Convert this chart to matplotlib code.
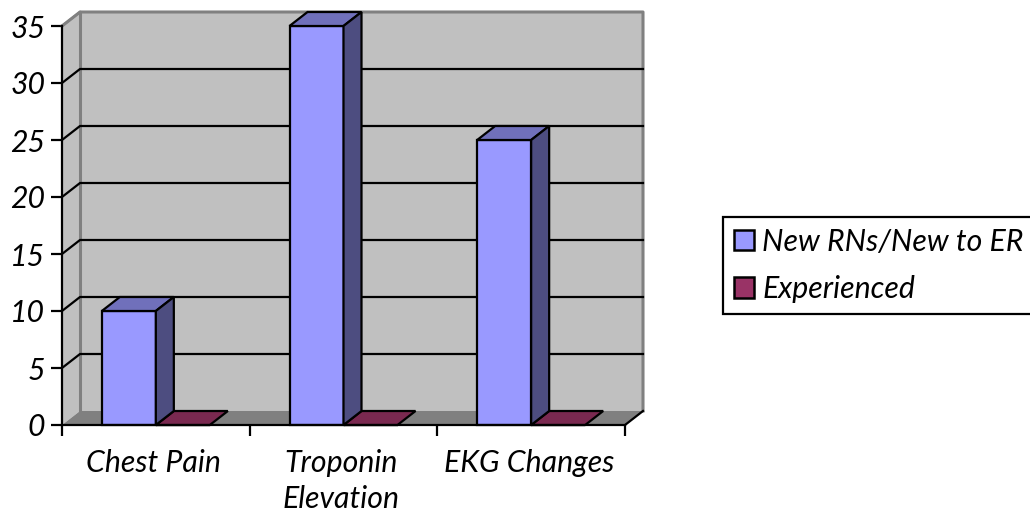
import matplotlib
matplotlib.use("Agg")
import matplotlib.pyplot as plt
from matplotlib.patches import Patch

categories = ["Chest Pain", "Troponin\nElevation", "EKG Changes"]
new_rns = [10, 35, 25]
experienced = [0, 0, 0]
series_names = ["New RNs/New to ER", "Experienced"]
y_ticks = [0, 5, 10, 15, 20, 25, 30, 35]

FONT = "Lato"
FS = 21.8
W, H = 1030, 514
L, R, B, T = 62, 625, 425, 26
fig = plt.figure(figsize=(W / 100, H / 100), dpi=100, facecolor="white")
ax = fig.add_axes([L / W, 1 - B / H, (R - L) / W, (B - T) / H])
ax.set_xlim(0, 3)
ax.set_ylim(0, 35)
ax.patch.set_visible(False)
for s in ("top", "right"):
    ax.spines[s].set_visible(False)
for s in ("left", "bottom"):
    ax.spines[s].set_linewidth(1.6)
    ax.spines[s].set_zorder(6)

dx = 18 / ((R - L) / 3)
dy = 14 / ((B - T) / 35)
bw = 54 / ((R - L) / 3)
lw = 1.6
wall = "#c0c0c0"
edge = "#808080"

# walls and floor
ax.fill([0, dx, dx, 0], [0, dy, 35 + dy, 35], fc=wall, ec="none", clip_on=False, zorder=1)
ax.fill([dx, 3 + dx, 3 + dx, dx], [dy, dy, 35 + dy, 35 + dy], fc=wall, ec="none", clip_on=False, zorder=1)
ax.plot([0, dx, 3 + dx, 3 + dx], [35, 35 + dy, 35 + dy, dy], color=edge, lw=2.2, clip_on=False, zorder=1.5)
ax.plot([dx, dx], [dy, 35 + dy], color=edge, lw=2.2, clip_on=False, zorder=1.5)
ax.fill([0, 3, 3 + dx, dx], [0, 0, dy, dy], fc=edge, ec="none", clip_on=False, zorder=2)
ax.plot([3, 3 + dx], [0, dy], color="black", lw=lw, clip_on=False, zorder=2.5)

# grid lines
for v in y_ticks[1:-1]:
    ax.plot([0, dx, 3 + dx], [v, v + dy, v + dy], color="black", lw=lw, clip_on=False, zorder=2.5)
ax.plot([0, dx], [35, 35 + dy], color=edge, lw=lw, clip_on=False, zorder=2.5)

# bars
def bar3d(x0, v, front, top, side):
    ax.bar(x0, v, width=bw, align="edge", fc=front, ec="black", lw=lw, clip_on=False, zorder=4)
    ax.fill([x0, x0 + bw, x0 + bw + dx, x0 + dx], [v, v, v + dy, v + dy],
            fc=top, ec="black", lw=lw, clip_on=False, zorder=4)
    if v > 0:
        ax.fill([x0 + bw, x0 + bw + dx, x0 + bw + dx, x0 + bw], [0, dy, v + dy, v],
                fc=side, ec="black", lw=lw, clip_on=False, zorder=4)

gap = (1 - 2 * bw) / 2
for i, (a, b) in enumerate(zip(new_rns, experienced)):
    bar3d(i + gap + bw, b, "#993366", "#7a2950", "#4d1a33")
    bar3d(i + gap, a, "#9999ff", "#7070bb", "#4d4d80")

# axes text
ax.set_xticks([0, 1, 2, 3])
ax.set_xticklabels([])
ax.set_yticks(y_ticks)
ax.tick_params(axis="both", length=8, width=1.6, color="black")
ax.tick_params(axis="y", pad=4)
for lab in ax.get_yticklabels():
    lab.set_fontfamily(FONT)
    lab.set_fontstyle("italic")
    lab.set_fontsize(FS)
for i, c in enumerate(categories):
    ax.annotate(c, (i + 0.5, 0), xytext=(-1.5, -17), textcoords="offset points", ha="center", va="top",
                family=FONT, style="italic", fontsize=FS, linespacing=1.36, annotation_clip=False)

# legend
handles = [Patch(fc="#9999ff", ec="black", lw=1.8, label=series_names[0]),
           Patch(fc="#993366", ec="black", lw=1.8, label=series_names[1])]
leg = fig.legend(handles=handles, loc="upper left", bbox_to_anchor=(723 / W, 1 - 217 / H), borderaxespad=0,
                 prop={"family": FONT, "style": "italic", "size": FS}, fancybox=False, edgecolor="black",
                 framealpha=1, handlelength=0.66, handleheight=0.66, handletextpad=0.27,
                 labelspacing=0.64, borderpad=0.36)
leg.get_frame().set_linewidth(1.6)

fig.savefig("out.png", dpi=100)
